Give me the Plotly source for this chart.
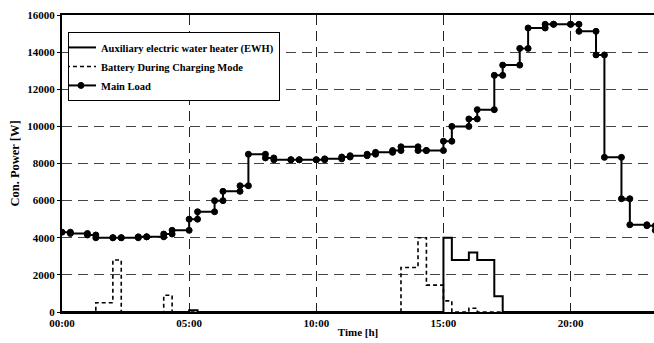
import plotly.graph_objects as go

# time grid [h]
hours = [0, 0.33, 1, 1.33, 2, 2.33, 3, 3.33, 4, 4.33, 5, 5.33, 6, 6.33, 7, 7.33,
         8, 8.33, 9, 9.33, 10, 10.33, 11, 11.33, 12, 12.33, 13, 13.33, 14, 14.33,
         15, 15.33, 16, 16.33, 17, 17.33, 18, 18.33, 19, 19.33, 20, 20.33, 21, 21.33,
         22, 22.33, 23, 23.33]

main_load = [4300, 4230, 4150, 4000, 4000, 4000, 4050, 4050, 4200, 4400, 5000, 5400,
             6000, 6500, 6800, 8500, 8300, 8200, 8200, 8200, 8200, 8250, 8350, 8420,
             8500, 8600, 8700, 8900, 8700, 8700, 9200, 10000, 10400, 10900, 12750, 13300,
             14200, 15300, 15500, 15500, 15500, 15120, 13850, 8330, 6100, 4700, 4650, 4400]

ewh = [0, 0, 0, 0, 0, 0, 0, 0, 0, 0, 100, 0,
       0, 0, 0, 0, 0, 0, 0, 0, 0, 0, 0, 0,
       0, 0, 0, 0, 0, 0, 4000, 2800, 3200, 2800, 850, 0,
       0, 0, 0, 0, 0, 0, 0, 0, 0, 0, 0, 0]

battery = [0, 0, 0, 500, 2800, 0, 0, 0, 900, 0, 0, 0,
           0, 0, 0, 0, 0, 0, 0, 0, 0, 0, 0, 0,
           0, 0, 0, 2400, 4000, 1450, 600, 0, 200, 0, 0, 0,
           0, 0, 0, 0, 0, 0, 0, 0, 0, 0, 0, 0]

x_tickvals = [0, 5, 10, 15, 20]
x_ticktext = ["00:00", "05:00", "10:00", "15:00", "20:00"]
y_tickvals = [0, 2000, 4000, 6000, 8000, 10000, 12000, 14000, 16000]

# stair vertices for main load (markers at every corner, MATLAB stairs style)
ml_x, ml_y = [hours[0]], [main_load[0]]
for i in range(1, len(hours)):
    ml_x += [hours[i], hours[i]]
    ml_y += [main_load[i - 1], main_load[i]]

FONT = "Liberation Serif, Times New Roman, serif"

fig = go.Figure()
fig.add_trace(go.Scatter(x=hours, y=ewh, mode="lines", line_shape="hv",
                         line=dict(color="black", width=2),
                         name="Auxiliary electric water heater (EWH)"))
fig.add_trace(go.Scatter(x=hours, y=battery, mode="lines", line_shape="hv",
                         line=dict(color="black", width=1.6, dash="4px,3px"),
                         name="Battery During Charging Mode"))
fig.add_trace(go.Scatter(x=ml_x, y=ml_y, mode="lines+markers",
                         line=dict(color="black", width=2),
                         marker=dict(symbol="circle", size=6, color="black",
                                     line=dict(color="black", width=1)),
                         name="Main Load"))

fig.update_layout(
    width=654, height=343,
    margin=dict(l=62, r=0, t=15, b=31, autoexpand=False),
    paper_bgcolor="white", plot_bgcolor="white",
    font=dict(family=FONT, size=11, color="black", weight="bold"),
    showlegend=True,
    legend=dict(x=0.0101, y=0.943, xanchor="left", yanchor="top",
                bgcolor="white", bordercolor="black", borderwidth=1,
                font=dict(family=FONT, size=10.5, color="black", weight="bold"),
                itemwidth=30, tracegroupgap=0, indentation=-8),
)
fig.update_xaxes(range=[0, 23.28], tickvals=x_tickvals, ticktext=x_ticktext,
                 automargin=False,
                 showline=True, linecolor="black", linewidth=2, mirror=True,
                 showgrid=True, gridcolor="#222", gridwidth=1, griddash="10px,6px",
                 zeroline=False, ticks="", ticklabelstandoff=0,
                 tickfont=dict(family=FONT, size=11, weight="bold"),
                 title=dict(text="Time [h]", standoff=0,
                            font=dict(family=FONT, size=11, weight="bold")))
fig.update_yaxes(range=[0, 16000], tickvals=y_tickvals,
                 automargin=False,
                 showline=True, linecolor="black", linewidth=2, mirror=False,
                 showgrid=True, gridcolor="#444", gridwidth=1, griddash="10px,6px",
                 zeroline=False, ticks="outside", ticklen=3, tickcolor="black",
                 tickformat="d",
                 tickfont=dict(family=FONT, size=11, weight="bold"),
                 title=dict(text="Con. Power [W]", standoff=5,
                            font=dict(family=FONT, size=12.5, weight="bold")))

fig.write_html("out.html", config={"displayModeBar": False},
               post_script="document.body.style.margin='0px';document.body.style.overflow='hidden';")
